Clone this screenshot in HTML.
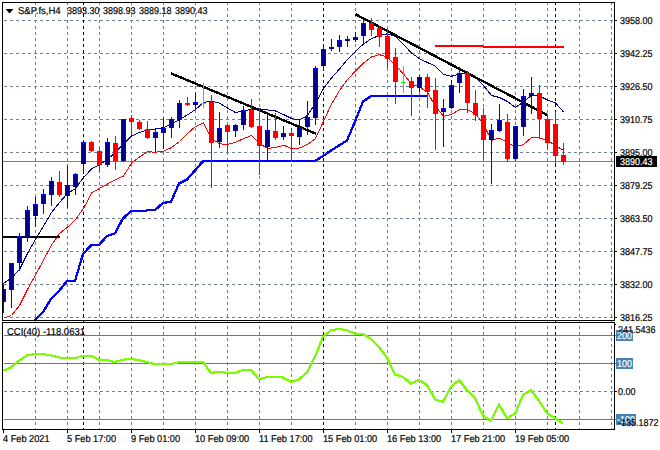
<!DOCTYPE html>
<html><head><meta charset="utf-8"><title>S&amp;P.fs,H4</title>
<style>
html,body{margin:0;padding:0;background:#fff;}
body{width:660px;height:450px;position:relative;overflow:hidden;font-family:"Liberation Sans",sans-serif;}
.t{position:absolute;font-size:10px;line-height:10px;height:10px;margin-top:-7.3px;white-space:pre;text-rendering:geometricPrecision;transform:scaleX(0.9);transform-origin:0 0;-webkit-text-stroke:0.2px currentColor;}
.d{transform:scaleX(0.92);}
.w{transform:scaleX(0.95);}
</style></head><body>
<svg width="660" height="450" viewBox="0 0 660 450" style="position:absolute;left:0;top:0">
<rect width="660" height="450" fill="#fff"/>
<defs><clipPath id="cm"><rect x="3" y="3" width="611" height="317"/></clipPath><clipPath id="ci"><rect x="3" y="323" width="611" height="106"/></clipPath></defs>
<g shape-rendering="crispEdges" fill="none" stroke-width="1">
<path d="M35.5 2V430M67.5 2V430M99.5 2V430M131.5 2V430M163.5 2V430M195.5 2V430M227.5 2V430M259.5 2V430M291.5 2V430M323.5 2V430M355.5 2V430M387.5 2V430M419.5 2V430M451.5 2V430M483.5 2V430M515.5 2V430M547.5 2V430M579.5 2V430M611.5 2V430" stroke="#708090" stroke-dasharray="3 3"/>
<path d="M4 20.5H614M4 53.5H614M4 86.5H614M4 119.5H614M4 152.5H614M4 185.5H614M4 218.5H614M4 251.5H614M4 284.5H614M4 317.5H614M4 391.5H614" stroke="#708090" stroke-dasharray="3 3"/>
<path d="M83.5 2V430M323.5 2V430M555.5 2V430" stroke="#000" stroke-dasharray="3 3"/>
</g>
<g shape-rendering="crispEdges">
<rect x="4" y="335" width="612" height="1" fill="#4682b4"/>
<rect x="4" y="363" width="612" height="1" fill="#4682b4"/>
<rect x="4" y="419" width="612" height="1" fill="#4682b4"/>
<rect x="3" y="161" width="611" height="1" fill="#708090"/>
</g>
<g clip-path="url(#cm)" shape-rendering="crispEdges">
<polyline points="27.50,330.50 35.50,320.50 43.50,312.50 51.50,299.50 59.50,291.50 67.50,281.50 75.50,281.50 83.50,254.50 91.50,246.00 99.50,245.50 107.50,236.50 115.50,233.80 123.50,218.80 131.50,211.70 139.50,211.30 147.50,211.00 155.50,210.50 163.50,203.50 171.50,202.20 179.50,184.00 187.50,180.00 195.50,171.00 203.50,161.80 211.50,161.50 219.50,161.50 227.50,161.50 235.50,161.50 243.50,161.50 251.50,161.50 259.50,161.50 267.50,161.50 275.50,161.50 283.50,161.50 291.50,161.50 299.50,161.50 307.50,161.50 315.50,161.50 323.50,156.50 331.50,151.00 339.50,146.00 347.50,141.00 355.50,122.00 363.50,102.00 371.50,96.80 379.50,96.50 387.50,96.50 395.50,96.50 403.50,96.50 411.50,96.50 419.50,96.50 427.50,96.50" fill="none" stroke="#0000ff" stroke-width="1"/><polyline points="27.50,329.50 35.50,319.50 43.50,311.50 51.50,298.50 59.50,290.50 67.50,280.50 75.50,280.50 83.50,253.50 91.50,245.00 99.50,244.50 107.50,235.50 115.50,232.80 123.50,217.80 131.50,210.70 139.50,210.30 147.50,210.00 155.50,209.50 163.50,202.50 171.50,201.20 179.50,183.00 187.50,179.00 195.50,170.00 203.50,160.80 211.50,160.50 219.50,160.50 227.50,160.50 235.50,160.50 243.50,160.50 251.50,160.50 259.50,160.50 267.50,160.50 275.50,160.50 283.50,160.50 291.50,160.50 299.50,160.50 307.50,160.50 315.50,160.50 323.50,155.50 331.50,150.00 339.50,145.00 347.50,140.00 355.50,121.00 363.50,101.00 371.50,95.80 379.50,95.50 387.50,95.50 395.50,95.50 403.50,95.50 411.50,95.50 419.50,95.50 427.50,95.50" fill="none" stroke="#0000ff" stroke-width="1"/><polyline points="26.50,330.50 34.50,320.50 42.50,312.50 50.50,299.50 58.50,291.50 66.50,281.50 74.50,281.50 82.50,254.50 90.50,246.00 98.50,245.50 106.50,236.50 114.50,233.80 122.50,218.80 130.50,211.70 138.50,211.30 146.50,211.00 154.50,210.50 162.50,203.50 170.50,202.20 178.50,184.00 186.50,180.00 194.50,171.00 202.50,161.80 210.50,161.50 218.50,161.50 226.50,161.50 234.50,161.50 242.50,161.50 250.50,161.50 258.50,161.50 266.50,161.50 274.50,161.50 282.50,161.50 290.50,161.50 298.50,161.50 306.50,161.50 314.50,161.50 322.50,156.50 330.50,151.00 338.50,146.00 346.50,141.00 354.50,122.00 362.50,102.00 370.50,96.80 378.50,96.50 386.50,96.50 394.50,96.50 402.50,96.50 410.50,96.50 418.50,96.50 426.50,96.50" fill="none" stroke="#0000ff" stroke-width="1"/><polyline points="26.50,329.50 34.50,319.50 42.50,311.50 50.50,298.50 58.50,290.50 66.50,280.50 74.50,280.50 82.50,253.50 90.50,245.00 98.50,244.50 106.50,235.50 114.50,232.80 122.50,217.80 130.50,210.70 138.50,210.30 146.50,210.00 154.50,209.50 162.50,202.50 170.50,201.20 178.50,183.00 186.50,179.00 194.50,170.00 202.50,160.80 210.50,160.50 218.50,160.50 226.50,160.50 234.50,160.50 242.50,160.50 250.50,160.50 258.50,160.50 266.50,160.50 274.50,160.50 282.50,160.50 290.50,160.50 298.50,160.50 306.50,160.50 314.50,160.50 322.50,155.50 330.50,150.00 338.50,145.00 346.50,140.00 354.50,121.00 362.50,101.00 370.50,95.80 378.50,95.50 386.50,95.50 394.50,95.50 402.50,95.50 410.50,95.50 418.50,95.50 426.50,95.50" fill="none" stroke="#0000ff" stroke-width="1"/>
<polyline points="3.5,318.3 11.5,315.5 19.5,305.5 27.5,289.5 35.5,275.0 43.5,260.0 51.5,245.0 59.5,233.5 67.5,227.2 75.5,219.5 83.5,208.5 91.5,193.0 99.5,188.5 107.5,184.0 115.5,179.7 123.5,176.0 131.5,163.0 139.5,157.0 147.5,151.8 155.5,152.2 163.5,151.3 171.5,147.5 179.5,141.5 187.5,133.5 195.5,126.5 203.5,123.0 211.5,138.5 219.5,143.8 227.5,144.5 235.5,142.2 243.5,138.7 251.5,135.5 259.5,143.5 267.5,148.5 275.5,147.5 283.5,145.2 291.5,148.5 299.5,148.0 307.5,144.5 315.5,138.5 323.5,121.3 331.5,104.0 339.5,90.5 347.5,79.5 355.5,71.0 363.5,63.0 371.5,57.0 379.5,54.7 387.5,57.2 395.5,65.5 403.5,74.0 411.5,84.0 419.5,87.0 427.5,92.5 435.5,106.5 443.5,116.3 451.5,114.5 459.5,109.5 467.5,110.0 475.5,113.5 483.5,124.5 491.5,140.3 499.5,138.1 507.5,142.5 515.5,146.8 523.5,144.5 531.5,137.5 539.5,137.7 547.5,140.5 555.5,145.5 563.5,150.5" fill="none" stroke="#ff0000" stroke-width="1"/>
<polyline points="3.5,283.5 11.5,278.0 19.5,269.5 27.5,253.5 35.5,239.5 43.5,226.0 51.5,212.5 59.5,202.5 67.5,193.5 75.5,188.5 83.5,177.5 91.5,169.0 99.5,164.7 107.5,159.5 115.5,152.2 123.5,144.0 131.5,136.0 139.5,132.5 147.5,130.0 155.5,129.0 163.5,127.5 171.5,124.0 179.5,119.5 187.5,114.8 195.5,109.5 203.5,102.5 211.5,101.0 219.5,103.2 227.5,108.0 235.5,112.5 243.5,111.0 251.5,109.3 259.5,108.8 267.5,110.0 275.5,111.0 283.5,114.5 291.5,118.5 299.5,120.0 307.5,115.5 315.5,103.0 323.5,88.5 331.5,78.0 339.5,69.0 347.5,59.5 355.5,51.3 363.5,44.0 371.5,38.5 379.5,35.5 387.5,33.8 395.5,36.5 403.5,44.5 411.5,53.0 419.5,58.7 427.5,62.5 435.5,66.3 443.5,74.5 451.5,76.3 459.5,74.0 467.5,73.0 475.5,77.5 483.5,85.5 491.5,95.5 499.5,97.5 507.5,101.5 515.5,107.5 523.5,102.0 531.5,95.3 539.5,96.0 547.5,100.0 555.5,102.8 563.5,112.0" fill="none" stroke="#00008b" stroke-width="1"/>
<rect x="3" y="236" width="57" height="2" fill="#000"/>
<rect x="435" y="45" width="48" height="2" fill="#ff0000"/><rect x="483" y="46" width="81" height="2" fill="#ff0000"/>
<line x1="171" y1="73.4" x2="316" y2="133.8" stroke="#000" stroke-width="2.4"/>
<line x1="355.2" y1="14.1" x2="547.3" y2="115.1" stroke="#000" stroke-width="2.4"/>
<rect x="3" y="283" width="1" height="30" fill="#0000ff"/>
<rect x="1" y="289" width="5" height="13" fill="#0000ff"/>
<rect x="2" y="290" width="3" height="12" fill="#00008b"/>
<rect x="11" y="263" width="1" height="45" fill="#0000ff"/>
<rect x="9" y="263" width="5" height="27" fill="#0000ff"/>
<rect x="10" y="264" width="3" height="26" fill="#00008b"/>
<rect x="19" y="233" width="1" height="38" fill="#0000ff"/>
<rect x="17" y="236" width="5" height="27" fill="#0000ff"/>
<rect x="18" y="237" width="3" height="26" fill="#00008b"/>
<rect x="27" y="206" width="1" height="36" fill="#0000ff"/>
<rect x="25" y="210" width="5" height="27" fill="#0000ff"/>
<rect x="26" y="211" width="3" height="26" fill="#00008b"/>
<rect x="35" y="197" width="1" height="30" fill="#0000ff"/>
<rect x="33" y="204" width="5" height="12" fill="#0000ff"/>
<rect x="34" y="205" width="3" height="11" fill="#00008b"/>
<rect x="43" y="189" width="1" height="25" fill="#0000ff"/>
<rect x="41" y="194" width="5" height="10" fill="#0000ff"/>
<rect x="42" y="195" width="3" height="9" fill="#00008b"/>
<rect x="51" y="177" width="1" height="29" fill="#0000ff"/>
<rect x="49" y="181" width="5" height="14" fill="#0000ff"/>
<rect x="50" y="182" width="3" height="13" fill="#00008b"/>
<rect x="59" y="171" width="1" height="26" fill="#ff0000"/>
<rect x="57" y="182" width="5" height="13" fill="#ff0000"/>
<rect x="67" y="166" width="1" height="42" fill="#0000ff"/>
<rect x="65" y="185" width="5" height="11" fill="#0000ff"/>
<rect x="66" y="186" width="3" height="10" fill="#00008b"/>
<rect x="75" y="173" width="1" height="22" fill="#0000ff"/>
<rect x="73" y="174" width="5" height="13" fill="#0000ff"/>
<rect x="74" y="175" width="3" height="12" fill="#00008b"/>
<rect x="83" y="140" width="1" height="34" fill="#0000ff"/>
<rect x="81" y="142" width="5" height="22" fill="#0000ff"/>
<rect x="82" y="143" width="3" height="21" fill="#00008b"/>
<rect x="91" y="141" width="1" height="11" fill="#ff0000"/>
<rect x="89" y="142" width="5" height="9" fill="#ff0000"/>
<rect x="99" y="148" width="1" height="24" fill="#ff0000"/>
<rect x="97" y="151" width="5" height="14" fill="#ff0000"/>
<rect x="107" y="138" width="1" height="29" fill="#0000ff"/>
<rect x="105" y="142" width="5" height="23" fill="#0000ff"/>
<rect x="106" y="143" width="3" height="22" fill="#00008b"/>
<rect x="115" y="136" width="1" height="34" fill="#ff0000"/>
<rect x="113" y="143" width="5" height="18" fill="#ff0000"/>
<rect x="123" y="119" width="1" height="43" fill="#0000ff"/>
<rect x="121" y="119" width="5" height="42" fill="#0000ff"/>
<rect x="122" y="120" width="3" height="41" fill="#00008b"/>
<rect x="131" y="115" width="1" height="20" fill="#ff0000"/>
<rect x="129" y="118" width="5" height="4" fill="#ff0000"/>
<rect x="139" y="120" width="1" height="10" fill="#ff0000"/>
<rect x="137" y="122" width="5" height="7" fill="#ff0000"/>
<rect x="147" y="121" width="1" height="18" fill="#ff0000"/>
<rect x="145" y="129" width="5" height="9" fill="#ff0000"/>
<rect x="155" y="129" width="1" height="23" fill="#0000ff"/>
<rect x="153" y="132" width="5" height="6" fill="#0000ff"/>
<rect x="154" y="133" width="3" height="5" fill="#00008b"/>
<rect x="163" y="118" width="1" height="31" fill="#0000ff"/>
<rect x="161" y="128" width="5" height="5" fill="#0000ff"/>
<rect x="162" y="129" width="3" height="4" fill="#00008b"/>
<rect x="171" y="117" width="1" height="21" fill="#0000ff"/>
<rect x="169" y="119" width="5" height="9" fill="#0000ff"/>
<rect x="170" y="120" width="3" height="8" fill="#00008b"/>
<rect x="179" y="100" width="1" height="28" fill="#0000ff"/>
<rect x="177" y="103" width="5" height="17" fill="#0000ff"/>
<rect x="178" y="104" width="3" height="16" fill="#00008b"/>
<rect x="187" y="97" width="1" height="9" fill="#ff0000"/>
<rect x="185" y="103" width="5" height="2" fill="#ff0000"/>
<rect x="195" y="92" width="1" height="18" fill="#0000ff"/>
<rect x="193" y="102" width="5" height="3" fill="#0000ff"/>
<rect x="194" y="103" width="3" height="2" fill="#00008b"/>
<rect x="211" y="95" width="1" height="93" fill="#ff0000"/>
<rect x="209" y="102" width="5" height="41" fill="#ff0000"/>
<rect x="219" y="112" width="1" height="36" fill="#0000ff"/>
<rect x="217" y="128" width="5" height="14" fill="#0000ff"/>
<rect x="218" y="129" width="3" height="13" fill="#00008b"/>
<rect x="227" y="124" width="1" height="28" fill="#ff0000"/>
<rect x="225" y="125" width="5" height="7" fill="#ff0000"/>
<rect x="235" y="124" width="1" height="13" fill="#0000ff"/>
<rect x="233" y="125" width="5" height="6" fill="#0000ff"/>
<rect x="234" y="126" width="3" height="5" fill="#00008b"/>
<rect x="243" y="106" width="1" height="24" fill="#0000ff"/>
<rect x="241" y="110" width="5" height="15" fill="#0000ff"/>
<rect x="242" y="111" width="3" height="14" fill="#00008b"/>
<rect x="251" y="99" width="1" height="29" fill="#ff0000"/>
<rect x="249" y="110" width="5" height="17" fill="#ff0000"/>
<rect x="259" y="108" width="1" height="67" fill="#ff0000"/>
<rect x="257" y="126" width="5" height="20" fill="#ff0000"/>
<rect x="267" y="113" width="1" height="47" fill="#0000ff"/>
<rect x="265" y="130" width="5" height="17" fill="#0000ff"/>
<rect x="266" y="131" width="3" height="16" fill="#00008b"/>
<rect x="275" y="113" width="1" height="27" fill="#ff0000"/>
<rect x="273" y="131" width="5" height="7" fill="#ff0000"/>
<rect x="283" y="126" width="1" height="14" fill="#0000ff"/>
<rect x="281" y="133" width="5" height="4" fill="#0000ff"/>
<rect x="282" y="134" width="3" height="3" fill="#00008b"/>
<rect x="291" y="128" width="1" height="34" fill="#ff0000"/>
<rect x="289" y="133" width="5" height="3" fill="#ff0000"/>
<rect x="299" y="121" width="1" height="24" fill="#0000ff"/>
<rect x="297" y="127" width="5" height="10" fill="#0000ff"/>
<rect x="298" y="128" width="3" height="9" fill="#00008b"/>
<rect x="307" y="101" width="1" height="34" fill="#0000ff"/>
<rect x="305" y="117" width="5" height="10" fill="#0000ff"/>
<rect x="306" y="118" width="3" height="9" fill="#00008b"/>
<rect x="315" y="66" width="1" height="59" fill="#0000ff"/>
<rect x="313" y="68" width="5" height="50" fill="#0000ff"/>
<rect x="314" y="69" width="3" height="49" fill="#00008b"/>
<rect x="323" y="44" width="1" height="26" fill="#0000ff"/>
<rect x="321" y="49" width="5" height="17" fill="#0000ff"/>
<rect x="322" y="50" width="3" height="16" fill="#00008b"/>
<rect x="331" y="39" width="1" height="12" fill="#0000ff"/>
<rect x="329" y="47" width="5" height="2" fill="#0000ff"/>
<rect x="330" y="48" width="3" height="1" fill="#00008b"/>
<rect x="339" y="35" width="1" height="17" fill="#0000ff"/>
<rect x="337" y="40" width="5" height="7" fill="#0000ff"/>
<rect x="338" y="41" width="3" height="6" fill="#00008b"/>
<rect x="347" y="36" width="1" height="11" fill="#0000ff"/>
<rect x="345" y="39" width="5" height="2" fill="#0000ff"/>
<rect x="346" y="40" width="3" height="1" fill="#00008b"/>
<rect x="355" y="32" width="1" height="10" fill="#0000ff"/>
<rect x="353" y="37" width="5" height="3" fill="#0000ff"/>
<rect x="354" y="38" width="3" height="2" fill="#00008b"/>
<rect x="363" y="20" width="1" height="24" fill="#0000ff"/>
<rect x="361" y="23" width="5" height="13" fill="#0000ff"/>
<rect x="362" y="24" width="3" height="12" fill="#00008b"/>
<rect x="371" y="18" width="1" height="18" fill="#ff0000"/>
<rect x="369" y="23" width="5" height="7" fill="#ff0000"/>
<rect x="379" y="26" width="1" height="21" fill="#ff0000"/>
<rect x="377" y="28" width="5" height="9" fill="#ff0000"/>
<rect x="387" y="29" width="1" height="39" fill="#ff0000"/>
<rect x="385" y="36" width="5" height="23" fill="#ff0000"/>
<rect x="395" y="48" width="1" height="56" fill="#ff0000"/>
<rect x="393" y="57" width="5" height="25" fill="#ff0000"/>
<rect x="411" y="77" width="1" height="39" fill="#ff0000"/>
<rect x="409" y="81" width="5" height="7" fill="#ff0000"/>
<rect x="419" y="75" width="1" height="17" fill="#0000ff"/>
<rect x="417" y="77" width="5" height="11" fill="#0000ff"/>
<rect x="418" y="78" width="3" height="10" fill="#00008b"/>
<rect x="427" y="74" width="1" height="34" fill="#ff0000"/>
<rect x="425" y="77" width="5" height="15" fill="#ff0000"/>
<rect x="435" y="78" width="1" height="72" fill="#ff0000"/>
<rect x="433" y="90" width="5" height="24" fill="#ff0000"/>
<rect x="443" y="99" width="1" height="48" fill="#0000ff"/>
<rect x="441" y="108" width="5" height="4" fill="#0000ff"/>
<rect x="442" y="109" width="3" height="3" fill="#00008b"/>
<rect x="451" y="80" width="1" height="29" fill="#0000ff"/>
<rect x="449" y="85" width="5" height="23" fill="#0000ff"/>
<rect x="450" y="86" width="3" height="22" fill="#00008b"/>
<rect x="459" y="67" width="1" height="26" fill="#0000ff"/>
<rect x="457" y="73" width="5" height="10" fill="#0000ff"/>
<rect x="458" y="74" width="3" height="9" fill="#00008b"/>
<rect x="467" y="71" width="1" height="42" fill="#ff0000"/>
<rect x="465" y="73" width="5" height="30" fill="#ff0000"/>
<rect x="475" y="90" width="1" height="31" fill="#ff0000"/>
<rect x="473" y="103" width="5" height="12" fill="#ff0000"/>
<rect x="483" y="108" width="1" height="52" fill="#ff0000"/>
<rect x="481" y="115" width="5" height="25" fill="#ff0000"/>
<rect x="491" y="124" width="1" height="60" fill="#0000ff"/>
<rect x="489" y="130" width="5" height="10" fill="#0000ff"/>
<rect x="490" y="131" width="3" height="9" fill="#00008b"/>
<rect x="499" y="104" width="1" height="28" fill="#0000ff"/>
<rect x="497" y="120" width="5" height="11" fill="#0000ff"/>
<rect x="498" y="121" width="3" height="10" fill="#00008b"/>
<rect x="507" y="114" width="1" height="48" fill="#ff0000"/>
<rect x="505" y="122" width="5" height="37" fill="#ff0000"/>
<rect x="515" y="126" width="1" height="35" fill="#0000ff"/>
<rect x="513" y="126" width="5" height="33" fill="#0000ff"/>
<rect x="514" y="127" width="3" height="32" fill="#00008b"/>
<rect x="523" y="89" width="1" height="47" fill="#0000ff"/>
<rect x="521" y="96" width="5" height="31" fill="#0000ff"/>
<rect x="522" y="97" width="3" height="30" fill="#00008b"/>
<rect x="531" y="77" width="1" height="37" fill="#0000ff"/>
<rect x="529" y="93" width="5" height="3" fill="#0000ff"/>
<rect x="530" y="94" width="3" height="2" fill="#00008b"/>
<rect x="539" y="85" width="1" height="54" fill="#ff0000"/>
<rect x="537" y="93" width="5" height="26" fill="#ff0000"/>
<rect x="547" y="114" width="1" height="36" fill="#ff0000"/>
<rect x="545" y="119" width="5" height="24" fill="#ff0000"/>
<rect x="555" y="112" width="1" height="52" fill="#ff0000"/>
<rect x="553" y="124" width="5" height="32" fill="#ff0000"/>
<rect x="563" y="143" width="1" height="22" fill="#ff0000"/>
<rect x="561" y="155" width="5" height="7" fill="#ff0000"/>
<rect x="203" y="83" width="1" height="25" fill="#00ff00"/><rect x="201" y="103" width="5" height="1" fill="#00ff00"/>
<rect x="403" y="66" width="1" height="27" fill="#00ff00"/><rect x="401" y="82" width="5" height="1" fill="#00ff00"/>
</g>
<g clip-path="url(#ci)" shape-rendering="crispEdges">
<polyline points="3.50,371.30 11.50,368.00 19.50,361.30 27.50,355.80 35.50,354.70 43.50,354.70 51.50,355.80 59.50,358.00 67.50,358.80 75.50,358.80 83.50,356.30 91.50,356.30 99.50,360.20 107.50,360.80 115.50,362.50 123.50,360.20 131.50,359.30 139.50,360.80 147.50,362.50 155.50,364.70 163.50,364.70 171.50,364.70 179.50,362.50 187.50,362.50 195.50,362.50 203.50,362.50 211.50,373.50 219.50,372.20 227.50,373.50 235.50,373.50 243.50,370.50 251.50,370.50 259.50,379.70 267.50,377.70 275.50,377.70 283.50,378.00 291.50,382.50 299.50,379.70 307.50,373.00 315.50,357.50 323.50,337.20 331.50,330.80 339.50,329.50 347.50,330.80 355.50,334.20 363.50,334.70 371.50,339.20 379.50,347.50 387.50,358.30 395.50,375.00 403.50,377.50 411.50,384.20 419.50,380.50 427.50,385.50 435.50,399.70 443.50,402.50 451.50,387.20 459.50,380.50 467.50,390.50 475.50,398.50 483.50,416.30 491.50,421.30 499.50,405.20 507.50,418.80 515.50,414.20 523.50,395.50 531.50,390.50 539.50,401.30 547.50,413.80 555.50,418.50 563.50,424.20" fill="none" stroke="#7cfc00" stroke-width="1"/><polyline points="3.50,370.30 11.50,367.00 19.50,360.30 27.50,354.80 35.50,353.70 43.50,353.70 51.50,354.80 59.50,357.00 67.50,357.80 75.50,357.80 83.50,355.30 91.50,355.30 99.50,359.20 107.50,359.80 115.50,361.50 123.50,359.20 131.50,358.30 139.50,359.80 147.50,361.50 155.50,363.70 163.50,363.70 171.50,363.70 179.50,361.50 187.50,361.50 195.50,361.50 203.50,361.50 211.50,372.50 219.50,371.20 227.50,372.50 235.50,372.50 243.50,369.50 251.50,369.50 259.50,378.70 267.50,376.70 275.50,376.70 283.50,377.00 291.50,381.50 299.50,378.70 307.50,372.00 315.50,356.50 323.50,336.20 331.50,329.80 339.50,328.50 347.50,329.80 355.50,333.20 363.50,333.70 371.50,338.20 379.50,346.50 387.50,357.30 395.50,374.00 403.50,376.50 411.50,383.20 419.50,379.50 427.50,384.50 435.50,398.70 443.50,401.50 451.50,386.20 459.50,379.50 467.50,389.50 475.50,397.50 483.50,415.30 491.50,420.30 499.50,404.20 507.50,417.80 515.50,413.20 523.50,394.50 531.50,389.50 539.50,400.30 547.50,412.80 555.50,417.50 563.50,423.20" fill="none" stroke="#7cfc00" stroke-width="1"/><polyline points="2.50,371.30 10.50,368.00 18.50,361.30 26.50,355.80 34.50,354.70 42.50,354.70 50.50,355.80 58.50,358.00 66.50,358.80 74.50,358.80 82.50,356.30 90.50,356.30 98.50,360.20 106.50,360.80 114.50,362.50 122.50,360.20 130.50,359.30 138.50,360.80 146.50,362.50 154.50,364.70 162.50,364.70 170.50,364.70 178.50,362.50 186.50,362.50 194.50,362.50 202.50,362.50 210.50,373.50 218.50,372.20 226.50,373.50 234.50,373.50 242.50,370.50 250.50,370.50 258.50,379.70 266.50,377.70 274.50,377.70 282.50,378.00 290.50,382.50 298.50,379.70 306.50,373.00 314.50,357.50 322.50,337.20 330.50,330.80 338.50,329.50 346.50,330.80 354.50,334.20 362.50,334.70 370.50,339.20 378.50,347.50 386.50,358.30 394.50,375.00 402.50,377.50 410.50,384.20 418.50,380.50 426.50,385.50 434.50,399.70 442.50,402.50 450.50,387.20 458.50,380.50 466.50,390.50 474.50,398.50 482.50,416.30 490.50,421.30 498.50,405.20 506.50,418.80 514.50,414.20 522.50,395.50 530.50,390.50 538.50,401.30 546.50,413.80 554.50,418.50 562.50,424.20" fill="none" stroke="#7cfc00" stroke-width="1"/><polyline points="2.50,370.30 10.50,367.00 18.50,360.30 26.50,354.80 34.50,353.70 42.50,353.70 50.50,354.80 58.50,357.00 66.50,357.80 74.50,357.80 82.50,355.30 90.50,355.30 98.50,359.20 106.50,359.80 114.50,361.50 122.50,359.20 130.50,358.30 138.50,359.80 146.50,361.50 154.50,363.70 162.50,363.70 170.50,363.70 178.50,361.50 186.50,361.50 194.50,361.50 202.50,361.50 210.50,372.50 218.50,371.20 226.50,372.50 234.50,372.50 242.50,369.50 250.50,369.50 258.50,378.70 266.50,376.70 274.50,376.70 282.50,377.00 290.50,381.50 298.50,378.70 306.50,372.00 314.50,356.50 322.50,336.20 330.50,329.80 338.50,328.50 346.50,329.80 354.50,333.20 362.50,333.70 370.50,338.20 378.50,346.50 386.50,357.30 394.50,374.00 402.50,376.50 410.50,383.20 418.50,379.50 426.50,384.50 434.50,398.70 442.50,401.50 450.50,386.20 458.50,379.50 466.50,389.50 474.50,397.50 482.50,415.30 490.50,420.30 498.50,404.20 506.50,417.80 514.50,413.20 522.50,394.50 530.50,389.50 538.50,400.30 546.50,412.80 554.50,417.50 562.50,423.20" fill="none" stroke="#7cfc00" stroke-width="1"/>
</g>
<g shape-rendering="crispEdges" fill="#000">
<rect x="2" y="2" width="613" height="1"/>
<rect x="2" y="320" width="613" height="1"/>
<rect x="2" y="322" width="613" height="1"/>
<rect x="2" y="429" width="613" height="1"/>
<rect x="2" y="2" width="1" height="319"/><rect x="2" y="322" width="1" height="108"/>
<rect x="614" y="2" width="1" height="319"/><rect x="614" y="322" width="1" height="108"/>
<rect x="615" y="20" width="2" height="1"/>
<rect x="615" y="53" width="2" height="1"/>
<rect x="615" y="86" width="2" height="1"/>
<rect x="615" y="119" width="2" height="1"/>
<rect x="615" y="152" width="2" height="1"/>
<rect x="615" y="185" width="2" height="1"/>
<rect x="615" y="218" width="2" height="1"/>
<rect x="615" y="251" width="2" height="1"/>
<rect x="615" y="284" width="2" height="1"/>
<rect x="615" y="317" width="2" height="1"/>
<rect x="615" y="391" width="2" height="1"/>
<rect x="615" y="324" width="1" height="1"/>
<rect x="3" y="430" width="1" height="3"/>
<rect x="67" y="430" width="1" height="3"/>
<rect x="131" y="430" width="1" height="3"/>
<rect x="195" y="430" width="1" height="3"/>
<rect x="259" y="430" width="1" height="3"/>
<rect x="323" y="430" width="1" height="3"/>
<rect x="387" y="430" width="1" height="3"/>
<rect x="451" y="430" width="1" height="3"/>
<rect x="515" y="430" width="1" height="3"/>
<polygon points="5.6,9 13.4,9 9.5,13.4" shape-rendering="auto"/>
</g>
<g shape-rendering="crispEdges" fill="#4682b4"><rect x="616" y="330" width="17" height="11"/><rect x="616" y="358" width="17" height="11"/><rect x="616" y="414" width="20" height="11"/></g>
<rect x="616" y="156" width="41" height="11" fill="#000" shape-rendering="crispEdges"/>
</svg>
<span class="t w" style="left:18px;top:14px;color:#000">S&amp;P.fs,H4</span><span class="t " style="left:66.6px;top:14px;color:#000">3893.30</span><span class="t " style="left:102.6px;top:14px;color:#000">3898.93</span><span class="t " style="left:138.6px;top:14px;color:#000">3889.18</span><span class="t " style="left:174.6px;top:14px;color:#000">3890.43</span><span class="t " style="left:620px;top:24px;color:#000">3958.00</span><span class="t " style="left:620px;top:57px;color:#000">3942.25</span><span class="t " style="left:620px;top:90px;color:#000">3926.50</span><span class="t " style="left:620px;top:123px;color:#000">3910.75</span><span class="t " style="left:620px;top:156px;color:#000">3895.00</span><span class="t " style="left:620px;top:189px;color:#000">3879.25</span><span class="t " style="left:620px;top:222px;color:#000">3863.50</span><span class="t " style="left:620px;top:255px;color:#000">3847.75</span><span class="t " style="left:620px;top:288px;color:#000">3832.00</span><span class="t " style="left:620px;top:321px;color:#000">3816.25</span><span class="t " style="left:620px;top:165px;color:#fff">3890.43</span><span class="t w" style="left:6.8px;top:335px;color:#000">CCI(40) -118.0631</span><span class="t " style="left:618px;top:333px;color:#000">241.5436</span><span class="t " style="left:617px;top:339px;color:#fff">200</span><span class="t " style="left:617px;top:367px;color:#fff">100</span><span class="t " style="left:618px;top:395px;color:#000">0.00</span><span class="t " style="left:617.3px;top:423px;color:#fff">-100</span><span class="t " style="left:617.5px;top:426px;color:#000">-135.1872</span><span class="t d" style="left:2.5px;top:442px;color:#000">4 Feb 2021</span><span class="t d" style="left:66.5px;top:442px;color:#000">5 Feb 17:00</span><span class="t d" style="left:130.5px;top:442px;color:#000">9 Feb 01:00</span><span class="t d" style="left:194.5px;top:442px;color:#000">10 Feb 09:00</span><span class="t d" style="left:258.5px;top:442px;color:#000">11 Feb 17:00</span><span class="t d" style="left:322.5px;top:442px;color:#000">15 Feb 01:00</span><span class="t d" style="left:386.5px;top:442px;color:#000">16 Feb 13:00</span><span class="t d" style="left:450.5px;top:442px;color:#000">17 Feb 21:00</span><span class="t d" style="left:514.5px;top:442px;color:#000">19 Feb 05:00</span>
</body></html>
